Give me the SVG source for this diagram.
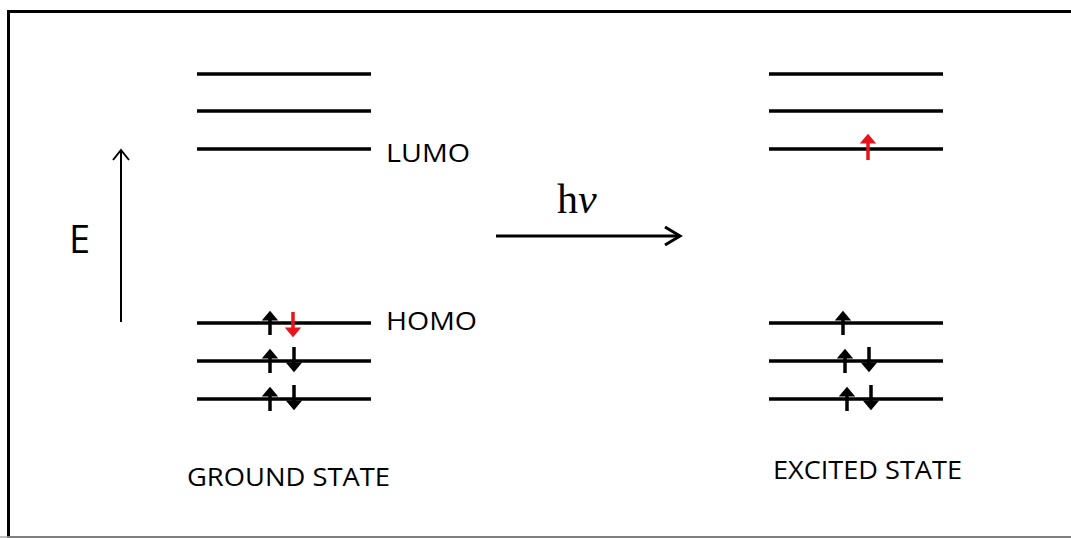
<svg xmlns="http://www.w3.org/2000/svg" width="1071" height="538" viewBox="0 0 1071 538">
<style>
.lvl{stroke:#000;stroke-width:3.5;fill:none}
.sp{stroke-width:3.5;fill:none;stroke-linecap:butt}
.hd{stroke-width:3;stroke-linejoin:miter}
.lab{font-family:"Open Sans","Noto Sans",sans-serif;font-size:26px;fill:#000}
</style>
<rect x="8.5" y="11.5" width="1080" height="526" fill="none" stroke="#000" stroke-width="3"/>
<line x1="0" y1="537" x2="1071" y2="537" stroke="#aaa" stroke-width="1.5"/>
<g id="ground-state">
<line class="lvl" x1="197" y1="74" x2="371" y2="74"/>
<line class="lvl" x1="197" y1="111" x2="371" y2="111"/>
<line class="lvl" x1="197" y1="149" x2="371" y2="149"/>
<line class="lvl" x1="197" y1="323" x2="371" y2="323"/>
<line class="lvl" x1="197" y1="361" x2="371" y2="361"/>
<line class="lvl" x1="197" y1="399" x2="371" y2="399"/>
<g stroke="#000" fill="#000">
<path class="sp" d="M270 335V315"/><path class="hd" d="M265 319L270 313L275 319Z"/>
<path class="sp" d="M270 373V353"/><path class="hd" d="M265 357L270 351L275 357Z"/>
<path class="sp" d="M270 411V391"/><path class="hd" d="M265 395L270 389L275 395Z"/>
<path class="sp" d="M294 347V367"/><path class="hd" d="M289 364L294 370L299 364Z"/>
<path class="sp" d="M294 385V405"/><path class="hd" d="M289 402L294 408L299 402Z"/>
</g>
<g stroke="#e8141c" fill="#e8141c">
<path class="sp" d="M293 312V332"/><path class="hd" d="M288 329L293 335L298 329Z"/>
</g>
<text class="lab" x="386" y="162" textLength="84" lengthAdjust="spacingAndGlyphs">LUMO</text>
<text class="lab" x="386" y="330" textLength="91" lengthAdjust="spacingAndGlyphs">HOMO</text>
<text class="lab" x="187" y="486" textLength="203" lengthAdjust="spacingAndGlyphs">GROUND STATE</text>
</g>
<g id="excited-state">
<line class="lvl" x1="769" y1="74" x2="943" y2="74"/>
<line class="lvl" x1="769" y1="111" x2="943" y2="111"/>
<line class="lvl" x1="769" y1="149" x2="943" y2="149"/>
<line class="lvl" x1="769" y1="323" x2="943" y2="323"/>
<line class="lvl" x1="769" y1="361" x2="943" y2="361"/>
<line class="lvl" x1="769" y1="399" x2="943" y2="399"/>
<g stroke="#000" fill="#000">
<path class="sp" d="M843 335V315"/><path class="hd" d="M838 319L843 313L848 319Z"/>
<path class="sp" d="M845 373V353"/><path class="hd" d="M840 357L845 351L850 357Z"/>
<path class="sp" d="M847 411V391"/><path class="hd" d="M842 395L847 389L852 395Z"/>
<path class="sp" d="M869 347V367"/><path class="hd" d="M864 364L869 370L874 364Z"/>
<path class="sp" d="M871 385V405"/><path class="hd" d="M866 402L871 408L876 402Z"/>
</g>
<g stroke="#e8141c" fill="#e8141c">
<path class="sp" d="M868 160V139"/><path class="hd" d="M863 142L868 136L873 142Z"/>
</g>
<text class="lab" x="773" y="479" textLength="189" lengthAdjust="spacingAndGlyphs">EXCITED STATE</text>
</g>
<g id="energy-axis">
<line x1="121" y1="322" x2="121" y2="151" stroke="#000" stroke-width="2"/>
<polyline points="113,160 121,150 129,160" fill="none" stroke="#000" stroke-width="2"/>
<text x="69" y="253" font-family="'Open Sans','Noto Sans',sans-serif" font-size="38" fill="#000">E</text>
</g>
<g id="connectors">
<line x1="496" y1="236" x2="680" y2="236" stroke="#000" stroke-width="3"/>
<polyline points="665,227 680,236 665,245" fill="none" stroke="#000" stroke-width="3"/>
<text x="557" y="213" font-family="'Liberation Serif',serif" font-size="42" fill="#000">h<tspan font-style="italic">ν</tspan></text>
</g>
</svg>
